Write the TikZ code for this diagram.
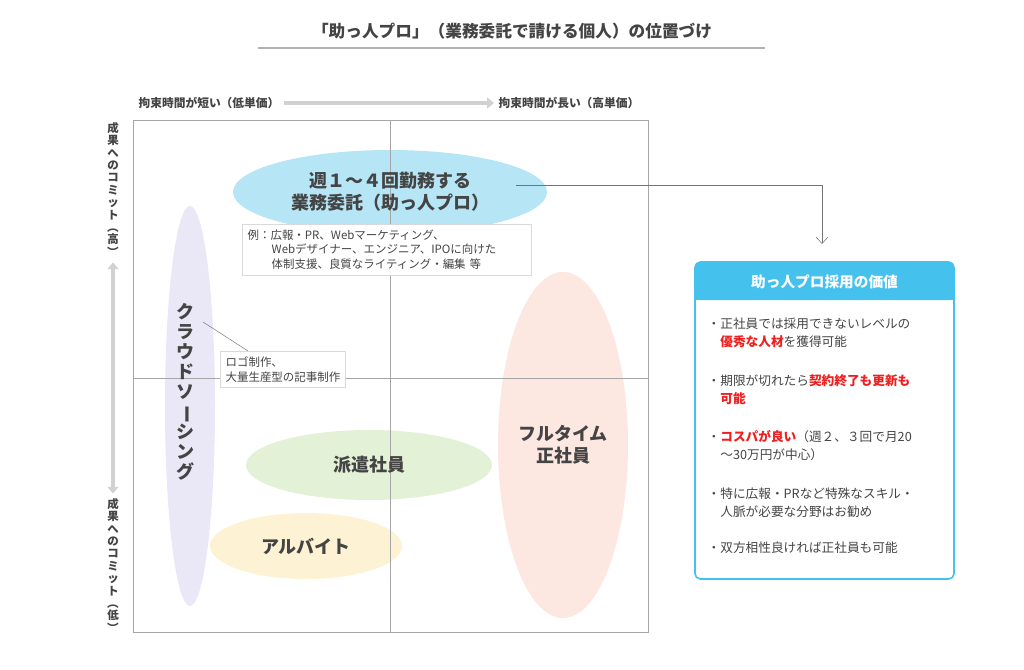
\documentclass[tikz,border=0pt]{standalone}
\usepackage{fontspec}
\setmainfont{Noto Sans CJK JP}
\usetikzlibrary{arrows.meta,positioning,shapes.geometric}

\definecolor{skyfill}{HTML}{B6E5F6}
\definecolor{lilacfill}{HTML}{EAE7F6}
\definecolor{rosefill}{HTML}{FCE7E1}
\definecolor{leaffill}{HTML}{E3F1D6}
\definecolor{sandfill}{HTML}{FDF2D3}
\definecolor{headblue}{HTML}{45C1EE}
\definecolor{inkgray}{HTML}{444444}
\definecolor{alertred}{HTML}{F01E1E}

\newcommand{\rot}[1]{\rotatebox[origin=c]{-90}{#1}}
\newcommand{\hl}[1]{{\color{alertred}\bfseries #1}}

\tikzset{
	blob/.style={ellipse, inner sep=0pt},
	blobtext/.style={font=\fontsize{13.5}{16.5}\selectfont\bfseries, text=inkgray, align=center},
	notebox/.style={draw=black!15, fill=white, font=\fontsize{8.6}{11}\selectfont, text=inkgray, align=left, anchor=north west, inner sep=4pt},
	axislabel/.style={font=\fontsize{8.8}{10}\selectfont\bfseries, text=inkgray},
	vlabel/.style={font=\fontsize{8.6}{9.3}\selectfont\bfseries, text=inkgray, align=center},
	item/.style={font=\fontsize{9.5}{13.5}\selectfont, text=inkgray, align=left, anchor=north west, text width=185pt},
	axisarrow/.style={black!18, line width=3pt},
}

\begin{document}
\begin{tikzpicture}[x=0.75pt,y=-0.75pt]

% canvas %{{{2

	\useasboundingbox (0,0) rectangle (1024,670);

% title %{{{2

	\node[font=\fontsize{12.5}{14}\selectfont\bfseries, text=inkgray] (title) at (512,31)
		{「助っ人プロ」（業務委託で請ける個人）の位置づけ};
	\draw[black!30, line width=1.5pt] (258,48) -- (765,48);

% axes %{{{2

	\node[axislabel] (xlow) at (209,103) {拘束時間が短い（低単価）};
	\node[axislabel] (xhigh) at (569,103) {拘束時間が長い（高単価）};
	\draw[axisarrow, -{Triangle[length=5pt,width=8pt]}] (xlow.east) -- (xhigh.west);

	\node[vlabel] (yhigh) at (113,190) {成\\果\\へ\\の\\コ\\ミ\\ッ\\ト\\\rot{（}\\高\\\rot{）}};
	\node[vlabel] (ylow) at (113,566) {成\\果\\へ\\の\\コ\\ミ\\ッ\\ト\\\rot{（}\\低\\\rot{）}};
	\draw[axisarrow, {Triangle[length=5pt,width=8pt]}-{Triangle[length=5pt,width=8pt]}] (yhigh.south) -- (ylow.north);

% ellipses %{{{2

	\node[blob, fill=lilacfill, minimum width=37.5pt, minimum height=300pt] (crowd) at (190,406) {};
	\node[blob, fill=rosefill, minimum width=97.5pt, minimum height=259.5pt] (fulltime) at (563,445) {};
	\node[blob, fill=leaffill, minimum width=184.5pt, minimum height=52.5pt] (haken) at (369,465) {};
	\node[blob, fill=sandfill, minimum width=144pt, minimum height=49.5pt] (arbeit) at (306,546) {};
	\node[blob, fill=skyfill, minimum width=235.5pt, minimum height=63pt] (sukettos) at (390,192) {};

% frame %{{{2

	\draw[black!35] (133,120) rectangle (648,632);
	\draw[black!35] (390,120) -- (390,632);
	\draw[black!35] (133,378) -- (648,378);

% ellipse labels %{{{2

	\node[blobtext] at (sukettos) {週１～４回勤務する\\業務委託（助っ人プロ）};
	\node[blobtext] at (fulltime) {フルタイム\\正社員};
	\node[blobtext] at (haken) {派遣社員};
	\node[blobtext] at (arbeit) {アルバイト};
	\node[blobtext, font=\fontsize{13.5}{15}\selectfont\bfseries] at (185,392)
		{ク\\ラ\\ウ\\ド\\ソ\\\rot{ー}\\シ\\ン\\グ};

% notes %{{{2

	\node[notebox, text width=209pt] (example) at (242,224)
		{例：広報・PR、Webマーケティング、\\\hspace*{2.1em}Webデザイナー、エンジニア、IPOに向けた\\\hspace*{2.1em}体制支援、良質なライティング・編集 等};

	\node[notebox] (crowdnote) at (220,351) {ロゴ制作、\\大量生産型の記事制作};
	\coordinate (crowdtip) at (203,322);
	\coordinate (crowdjoin) at (248,351);
	\draw[black!50] (crowdtip) -- (crowdjoin);

% value box %{{{2

	\draw[headblue, line width=1.2pt, fill=white, rounded corners=4pt] (695,262) rectangle (954,579);
	\fill[headblue, rounded corners=4pt] (695,262) rectangle (954,300);
	\fill[headblue] (695,288) rectangle (954,300);
	\node[font=\fontsize{11}{12}\selectfont\bfseries, text=white] (valuehead) at (824.5,282) {助っ人プロ採用の価値};

	\node[item] (v1) at (703,313) {・正社員では採用できないレベルの\\\hspace*{1em}\hl{優秀な人材}を獲得可能};
	\node[item] (v2) at (703,370) {・期限が切れたら\hl{契約終了も更新も}\\\hspace*{1em}\hl{可能}};
	\node[item] (v3) at (703,426) {・\hl{コスパが良い}（週２、３回で月20\\\hspace*{1em}～30万円が中心）};
	\node[item] (v4) at (703,483) {・特に広報・PRなど特殊なスキル・\\\hspace*{1em}人脈が必要な分野はお勧め};
	\node[item] (v5) at (703,537) {・双方相性良ければ正社員も可能};

% connector %{{{2

	\coordinate (bend) at (822,185);
	\coordinate (drop) at (822,244);
	\draw[black!55, -{Straight Barb[length=5pt,width=9pt]}] (516,185) -- (bend) -- (drop);

\end{tikzpicture}
\end{document}
